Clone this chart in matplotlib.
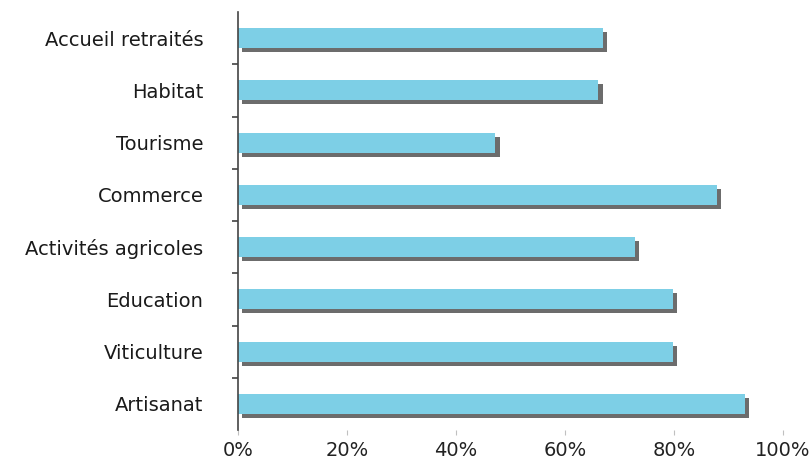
import matplotlib
matplotlib.use("Agg")
import matplotlib.pyplot as plt
import matplotlib.patheffects as pe
from matplotlib.ticker import PercentFormatter, FixedLocator

# top to bottom as in the chart
categories = [
    "Accueil retraités",
    "Habitat",
    "Tourisme",
    "Commerce",
    "Activités agricoles",
    "Education",
    "Viticulture",
    "Artisanat",
]
shares = [66.9, 66.1, 47.2, 87.9, 72.8, 79.8, 79.8, 93.0]
x_ticks = [0, 20, 40, 60, 80, 100]

BAR_COLOR = "#7dcfe6"
SHADOW_COLOR = "#6c6c6c"

fig = plt.figure(figsize=(8.1, 4.67), dpi=100)
ax = fig.add_axes([0.2938, 0.0792, 0.6728, 0.8951])

positions = list(range(len(categories)))
bars = ax.barh(positions, shares, height=0.38, color=BAR_COLOR, zorder=2)
for bar in bars:
    bar.set_path_effects([
        pe.SimplePatchShadow(offset=(3.2, -2.9), shadow_rgbFace=SHADOW_COLOR, alpha=1.0),
        pe.Normal(),
    ])

ax.set_xlim(0, 100)
ax.set_ylim(len(categories) - 0.5, -0.5)

ax.set_yticks(positions)
ax.set_yticklabels(categories, fontsize=14, color="#1a1a1a")
ax.tick_params(axis="y", which="major", length=0, pad=25)
ax.yaxis.set_minor_locator(FixedLocator([p + 0.5 for p in positions[:-1]]))
ax.tick_params(axis="y", which="minor", length=4.3, width=1.1, color="#333333")

ax.set_xticks(x_ticks)
ax.xaxis.set_major_formatter(PercentFormatter(decimals=0))
ax.tick_params(axis="x", length=3.6, width=0.8, color="#c0c0c0", pad=4,
               labelsize=14, labelcolor="#222222")

for side in ("top", "right", "bottom"):
    ax.spines[side].set_visible(False)
ax.spines["left"].set_color("#444444")
ax.spines["left"].set_linewidth(1.2)

fig.savefig("out.png", dpi=100)
